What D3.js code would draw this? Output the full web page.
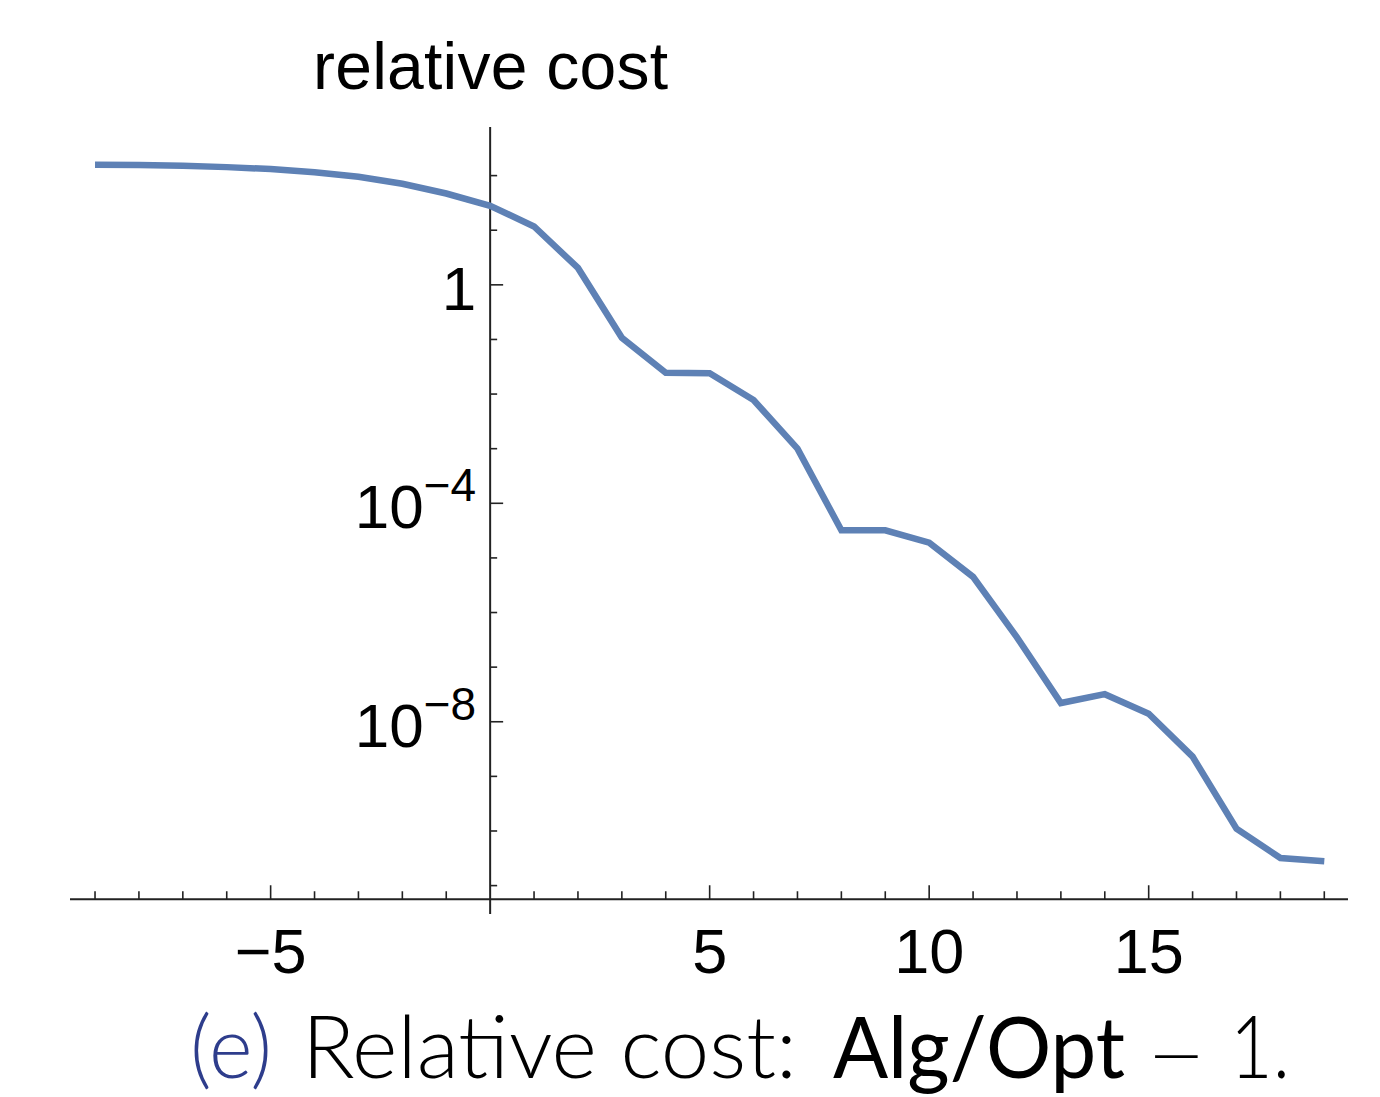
<!DOCTYPE html>
<html>
<head>
<meta charset="utf-8">
<script src="https://cdn.jsdelivr.net/npm/d3@7/dist/d3.min.js"></script>
<style>
body { margin: 0; background: #fff; }
.lbl { font-family: "Liberation Sans", Arial, sans-serif; fill: #000; }
.cap { font-family: Lato, "Open Sans", sans-serif; }
</style>
</head>
<body>
<script>
// step index and relative cost (Alg/Opt - 1)
var steps = [-9, -8, -7, -6, -5, -4, -3, -2, -1, 0, 1, 2, 3, 4, 5, 6, 7, 8, 9, 10, 11, 12, 13, 14, 15, 16, 17, 18, 19];
var relCost = [158, 157, 151, 143, 132, 115, 95, 71, 47, 28, 11.7, 2.04, 0.107, 0.0245, 0.024, 0.0078, 0.001,
    3.2e-5, 3.2e-5, 1.9e-5, 4.5e-6, 3.5e-7, 2.2e-8, 3.2e-8, 1.4e-8, 2.3e-9, 1.1e-10, 3.2e-11, 2.8e-11];

var xTickVals = [-5, 5, 10, 15];
var xTickLabels = ["\u22125", "5", "10", "15"];
var yTickVals = [1, 1e-4, 1e-8];
var yTickBase = ["1", "10", "10"];
var yTickExp = ["", "\u22124", "\u22128"];

var width = 1380, height = 1097;

var svg = d3.select("body").append("svg")
    .attr("width", width)
    .attr("height", height);

var xScale = d3.scaleLinear().domain([-9.57, 19.54]).range([70, 1348]);
var yScale = d3.scaleLog().domain([Math.pow(10, -11.52), Math.pow(10, 2.89)]).range([914, 127]);

var axisColor = "#222";
var xAxisY = yScale(Math.pow(10, -11.25));
var yAxisX = xScale(0);

// axes lines
svg.append("line")
    .attr("x1", 70).attr("x2", 1348)
    .attr("y1", xAxisY).attr("y2", xAxisY)
    .attr("stroke", axisColor).attr("stroke-width", 2);

svg.append("line")
    .attr("x1", yAxisX).attr("x2", yAxisX)
    .attr("y1", yScale.range()[1]).attr("y2", yScale.range()[0])
    .attr("stroke", axisColor).attr("stroke-width", 2);

// x ticks: minor every unit, major every 5
var xMinor = d3.range(-9, 20).filter(function(d) { return d != 0; });
svg.selectAll(".xtick")
    .data(xMinor)
  .enter().append("line")
    .attr("class", "xtick")
    .attr("x1", function(d) { return xScale(d); })
    .attr("x2", function(d) { return xScale(d); })
    .attr("y1", xAxisY)
    .attr("y2", function(d) { return xAxisY - (d % 5 == 0 ? 14 : 8); })
    .attr("stroke", axisColor).attr("stroke-width", 1.6);

svg.selectAll(".xlabel")
    .data(xTickVals)
  .enter().append("text")
    .attr("class", "lbl")
    .attr("x", function(d) { return xScale(d); })
    .attr("y", 973)
    .attr("text-anchor", "middle")
    .style("font-size", "63px")
    .text(function(d, i) { return xTickLabels[i]; });

// y ticks: one per decade, longer at labelled ones
var yDecades = d3.range(-11, 3).map(function(e) { return Math.pow(10, e); });
svg.selectAll(".ytick")
    .data(yDecades)
  .enter().append("line")
    .attr("class", "ytick")
    .attr("x1", yAxisX)
    .attr("x2", function(d) {
        var e = Math.round(Math.log10(d));
        return yAxisX + (e % 4 == 0 ? 13 : 7);
    })
    .attr("y1", function(d) { return yScale(d); })
    .attr("y2", function(d) { return yScale(d); })
    .attr("stroke", axisColor).attr("stroke-width", 1.6);

var ylab = svg.selectAll(".ylabel")
    .data(yTickVals)
  .enter().append("text")
    .attr("class", "lbl")
    .attr("x", yAxisX - 14)
    .attr("y", function(d) { return yScale(d) + 25; })
    .attr("text-anchor", "end")
    .style("font-size", "62px");

ylab.append("tspan")
    .text(function(d, i) { return yTickBase[i]; });
ylab.append("tspan")
    .attr("dy", -27)
    .style("font-size", "46px")
    .text(function(d, i) { return yTickExp[i]; });

// axis title
svg.append("text")
    .attr("class", "lbl")
    .attr("x", 313)
    .attr("y", 89)
    .attr("textLength", 355)
    .style("font-size", "66px")
    .text("relative cost");

// the curve
var line = d3.line()
    .x(function(d, i) { return xScale(steps[i]); })
    .y(function(d) { return yScale(d); });

svg.append("path")
    .datum(relCost)
    .attr("d", line)
    .attr("fill", "none")
    .attr("stroke", "#5E81B5")
    .attr("stroke-width", 6.5);

// caption
var capY = 1078;
function caption(txt, x, w, weight, color) {
    return svg.append("text").attr("class", "cap")
        .attr("x", x).attr("y", capY)
        .attr("textLength", w).attr("lengthAdjust", "spacingAndGlyphs")
        .style("font-size", "86px").style("font-weight", weight)
        .attr("fill", color)
        .text(txt);
}
caption("(e)", 190, 82, 300, "#2E3D8C");
caption("Relative cost:", 302, 495, 300, "#000");
caption("Alg/Opt", 833, 292, 400, "#000");
caption("\u2212", 1148, 57, 200, "#000")
    .style("font-family", "'DejaVu Sans', sans-serif")
    .style("font-size", "68px");
caption("1.", 1230, 60, 300, "#000");
</script>
</body>
</html>
